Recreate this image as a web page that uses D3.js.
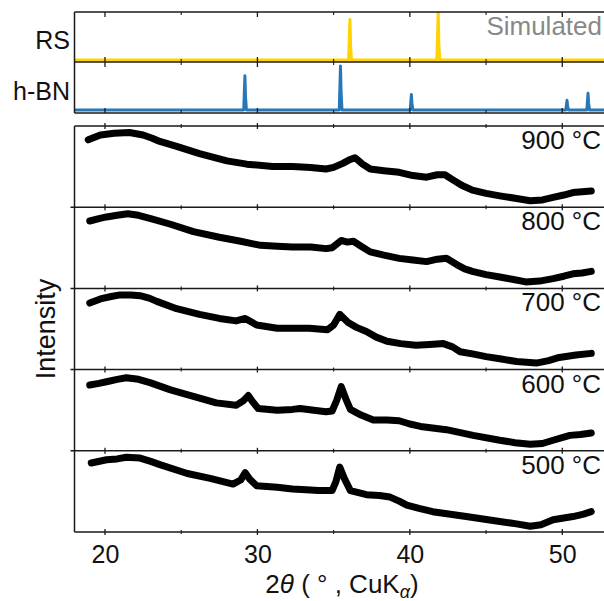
<!DOCTYPE html>
<html>
<head>
<meta charset="utf-8">
<script src="https://cdn.jsdelivr.net/npm/d3@7"></script>
<style>
  body { margin: 0; background: #fff; }
  text { font-family: "Liberation Sans", Arial, sans-serif; }
</style>
</head>
<body>
<div id="chart"></div>
<script>

// simulated patterns (2theta, relative intensity)
var rsPattern = [[18,0],[35.98,0],[36.07,0.92],[36.11,0.35],[36.17,0],[41.77,0],[41.86,1.1],[41.9,0.4],[41.96,0],[53,0]];
var hbnPattern = [[18,0],[29.1,0],[29.18,0.78],[29.22,0.3],[29.28,0],[35.37,0],[35.45,1.0],[35.49,0.4],[35.55,0],
  [40.02,0],[40.1,0.35],[40.14,0.15],[40.2,0],[50.23,0],[50.31,0.22],[50.36,0.08],[50.41,0],
  [51.61,0],[51.69,0.38],[51.73,0.15],[51.79,0],[53,0]];

// measured patterns, intensity in arbitrary units
var t900 = [[18.9,83],[19.7,89],[20.6,91],[21.6,92],[22.5,89],[23.1,85],[23.6,81],[24.7,75],[26.2,66],[28.0,57],[29.3,53],[31.0,50],[32.3,50],[33.5,49],[34.5,47],[35.0,49],[35.6,54],[36.0,58],[36.4,61],[36.9,53],[37.4,47],[38.3,45],[39.3,43],[40.2,39],[41.1,37],[41.8,40],[42.3,40],[42.8,34],[43.4,27],[44.1,21],[45.0,17],[45.9,14],[46.9,11],[47.9,8],[48.7,9],[49.4,12],[50.1,15],[50.7,18],[51.3,19],[51.9,20]];
var t800 = [[19.0,83],[19.6,86],[20.1,88],[20.8,90],[21.5,92],[22.2,90],[23.0,86],[24.3,79],[25.8,70],[27.5,63],[28.9,58],[30.2,53],[31.3,52],[32.3,51],[33.5,51],[34.5,49],[34.9,50],[35.5,59],[35.9,57],[36.3,58],[36.8,52],[37.4,45],[38.3,41],[39.3,37],[40.2,35],[41.1,33],[41.8,36],[42.4,37],[43.1,29],[43.6,24],[44.1,21],[45.0,17],[45.9,14],[46.8,11],[47.6,8],[48.5,9],[49.4,12],[50.1,15],[50.7,18],[51.3,19],[51.9,21]];
var t700 = [[19.0,82],[19.7,87],[20.4,90],[21.0,92],[21.7,92],[22.3,91],[22.9,88],[23.4,84],[24.7,75],[26.2,68],[27.5,63],[28.6,60],[29.2,63],[29.95,55],[31.3,51],[32.3,51],[33.4,51],[34.6,49],[35.0,55],[35.4,68],[35.95,58],[36.5,52],[37.15,47],[37.8,40],[38.5,35],[39.4,32],[40.4,30],[41.3,31],[42.2,32],[42.8,28],[43.3,22],[44.2,19],[45.0,16],[46.0,13],[47.0,10],[48.3,8],[49.1,11],[49.8,15],[50.9,18],[51.9,20]];
var t600 = [[19.0,81],[19.6,83],[20.1,85],[20.8,88],[21.4,90],[22.2,88],[22.95,84],[24.3,75],[25.8,67],[27.3,59],[28.6,56],[29.1,62],[29.4,68],[29.7,60],[30.05,52],[31.3,50],[32.3,51],[32.8,52],[33.7,50],[34.5,48],[34.9,49],[35.2,62],[35.5,79],[35.8,64],[36.1,51],[36.8,44],[37.6,38],[38.5,38],[39.3,37],[40.0,33],[40.7,30],[42.4,26],[44.15,19],[45.9,13],[46.9,10],[47.9,8],[48.7,9],[49.4,13],[50.5,19],[51.2,20],[51.9,22]];
var t500 = [[19.1,85],[20.1,89],[20.8,90],[21.4,92],[22.3,91],[23.0,87],[23.6,83],[25.4,72],[26.9,66],[28.4,59],[28.9,64],[29.2,73],[29.5,65],[29.95,57],[31.3,55],[32.3,53],[33.2,52],[34.0,51],[34.9,51],[35.15,62],[35.4,80],[35.7,66],[36.1,51],[37.15,46],[38.0,45],[38.7,43],[39.3,38],[39.8,33],[40.6,29],[41.5,25],[43.7,19],[45.9,13],[47.0,10],[47.9,7],[48.6,9],[49.4,15],[50.7,19],[51.4,22],[51.9,25]];

var samples = [t900, t800, t700, t600, t500];
var tempLabels = ["900 °C", "800 °C", "700 °C", "600 °C", "500 °C"];
var majorTicks = [20, 30, 40, 50];
var minorTicks = [25, 35, 45];

var W = 604, H = 601;
var left = 74.5, right = 608;
var axisColor = "#1a1a1a";

var svg = d3.select("#chart").append("svg")
  .attr("width", W)
  .attr("height", H);

svg.append("rect").attr("width", W).attr("height", H).attr("fill", "#fff");

var x = d3.scaleLinear().domain([18, 53]).range([left, right]);

function ticks(y, up, down, upMinor, downMinor) {
  var g = svg.append("g");
  g.selectAll("line.major").data(majorTicks).enter().append("line")
    .attr("x1", function(d) { return x(d); }).attr("x2", function(d) { return x(d); })
    .attr("y1", y - up).attr("y2", y + down)
    .attr("stroke", axisColor).attr("stroke-width", 1.3);
  g.selectAll("line.minor").data(minorTicks).enter().append("line")
    .attr("x1", function(d) { return x(d); }).attr("x2", function(d) { return x(d); })
    .attr("y1", y - upMinor).attr("y2", y + downMinor)
    .attr("stroke", axisColor).attr("stroke-width", 1.1);
}

function hline(y, x0) {
  svg.append("line")
    .attr("x1", x0).attr("x2", W)
    .attr("y1", y).attr("y2", y)
    .attr("stroke", axisColor).attr("stroke-width", 1.5);
}

// ---- simulated panels
var topPanels = [
  {name: "RS", data: rsPattern, color: "#ffd200", y0: 12, y1: 62, base: 60, labelY: 49},
  {name: "h-BN", data: hbnPattern, color: "#2878b8", y0: 62, y1: 113, base: 110, labelY: 100}
];

topPanels.forEach(function(p, i) {
  var y = d3.scaleLinear().domain([0, 1]).range([p.base, p.y0 + 4]);
  var clipId = "clip" + i;
  svg.append("clipPath").attr("id", clipId).append("rect")
    .attr("x", left).attr("y", p.y0).attr("width", W - left).attr("height", p.y1 - p.y0);

  svg.append("path")
    .datum(p.data)
    .attr("clip-path", "url(#" + clipId + ")")
    .attr("fill", "none")
    .attr("stroke", p.color)
    .attr("stroke-width", 3)
    .attr("stroke-linejoin", "round")
    .attr("d", d3.line().x(function(d) { return x(d[0]); }).y(function(d) { return y(d[1]); }));

  svg.append("text")
    .attr("x", 70).attr("y", p.labelY)
    .attr("text-anchor", "end")
    .attr("font-size", 25)
    .attr("fill", "#111")
    .text(p.name);
});

hline(12, left);
hline(62, left);
hline(113, left);
svg.append("line").attr("x1", left).attr("x2", left).attr("y1", 12).attr("y2", 113)
  .attr("stroke", axisColor).attr("stroke-width", 1.5);
ticks(12, 0, 5, 0, 3);
ticks(62, 5, 5, 3, 3);
ticks(113, 5, 0, 3, 0);

svg.append("text")
  .attr("x", 602).attr("y", 35)
  .attr("text-anchor", "end")
  .attr("font-size", 26)
  .attr("fill", "#888")
  .text("Simulated");

// ---- measured panels
var plotTop = 126, plotBottom = 532;
var bandH = (plotBottom - plotTop) / samples.length;

var line = d3.line()
  .curve(d3.curveLinear);

samples.forEach(function(s, i) {
  var b0 = plotTop + i * bandH;
  var y = d3.scaleLinear().domain([0, 100]).range([b0 + bandH, b0]);
  line.x(function(d) { return x(d[0]); }).y(function(d) { return y(d[1]); });

  svg.append("path")
    .datum(s)
    .attr("fill", "none")
    .attr("stroke", "#000")
    .attr("stroke-width", 7)
    .attr("stroke-linejoin", "round")
    .attr("stroke-linecap", "round")
    .attr("d", line);

  svg.append("text")
    .attr("x", 601).attr("y", b0 + 23)
    .attr("text-anchor", "end")
    .attr("font-size", 26)
    .attr("fill", "#111")
    .text(tempLabels[i]);
});

for (var i = 0; i <= samples.length; i++) {
  var yy = plotTop + i * bandH;
  hline(yy, i == 0 || i == samples.length ? left : left - 4);
  ticks(yy, 3, 3, 2, 2);
}
svg.append("line").attr("x1", left).attr("x2", left).attr("y1", plotTop).attr("y2", plotBottom)
  .attr("stroke", axisColor).attr("stroke-width", 1.5);

// x axis labels
var xAxis = d3.axisBottom(x).tickValues(majorTicks).tickSize(0).tickPadding(0);
var gx = svg.append("g")
  .attr("transform", "translate(0," + plotBottom + ")")
  .call(xAxis);
gx.select(".domain").remove();
gx.selectAll("text")
  .attr("font-size", 25)
  .attr("font-family", "Liberation Sans, Arial, sans-serif")
  .attr("fill", "#111")
  .attr("dy", null)
  .attr("y", 31);

var xl = svg.append("text")
  .attr("x", 342).attr("y", 593)
  .attr("text-anchor", "middle")
  .attr("font-size", 26)
  .attr("fill", "#111");
xl.append("tspan").text("2");
xl.append("tspan").attr("font-style", "italic").text("θ");
xl.append("tspan").text(" ( ° , CuK");
xl.append("tspan").attr("font-style", "italic").attr("font-size", 18).attr("dy", 5).text("α");
xl.append("tspan").attr("dy", -5).text(")");

svg.append("text")
  .attr("transform", "translate(55," + ((plotTop + plotBottom) / 2) + ") rotate(-90)")
  .attr("text-anchor", "middle")
  .attr("font-size", 27)
  .attr("fill", "#111")
  .text("Intensity");

</script>
</body>
</html>
